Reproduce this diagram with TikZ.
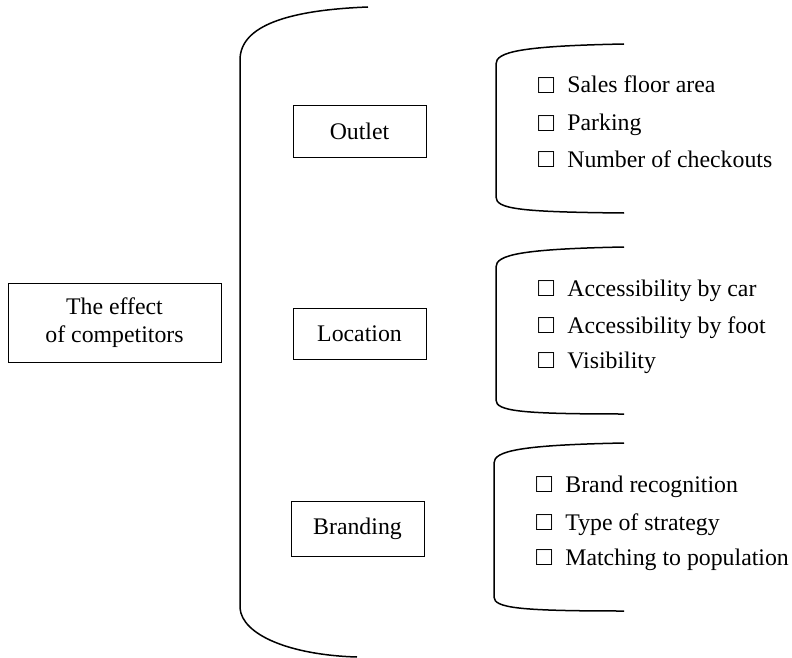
\documentclass[tikz,border=0pt]{standalone}
\usepackage{fontspec}
\setmainfont{Liberation Serif}
\newcommand{\chkbox}{\raisebox{-0.5pt}{\scalebox{1.12}{□}}\hspace{0.55em}}
\begin{document}
\begin{tikzpicture}[x=1pt,y=-1pt,
  txt/.style={font=\fontsize{23.8}{28}\selectfont},
  box/.style={txt, draw, line width=1pt, inner sep=0pt, align=center},
  item/.style={txt, anchor=base west, inner sep=0pt},
  brk/.style={line width=1.5pt}]
\useasboundingbox (0,0) rectangle (792,658);
% boxes
\node[box, minimum width=213pt, minimum height=79pt] (eff) at (114.5,322.5) {The effect\\of competitors};
\node[box, minimum width=133pt, minimum height=51pt] (outlet) at (359.5,131.5) {Outlet};
\node[box, minimum width=133pt, minimum height=51pt] (location) at (359.5,333.5) {Location};
\node[box, minimum width=133pt, minimum height=55pt] (branding) at (357.5,528.5) {Branding};
% big bracket
\draw[brk] (368,7) .. controls (290,10) and (240,25) .. (240,60) -- (240,608)
  .. controls (242,635) and (290,655) .. (357,657);
% small brackets
\draw[brk] (624,44) .. controls (520,46) and (496,52) .. (496,64) -- (496,197)
  .. controls (496,209) and (520,212) .. (624,213);
\draw[brk] (624,247) .. controls (520,249) and (496,255) .. (496,267) -- (496,400)
  .. controls (496,411) and (520,414) .. (624,414);
\draw[brk] (624,443) .. controls (520,445) and (494,451) .. (494,463) -- (494,597)
  .. controls (494,608) and (520,611) .. (624,611);
% items
\node[item] (o1) at (538,93) {\chkbox Sales floor area};
\node[item] (o2) at (538,131) {\chkbox Parking};
\node[item] (o3) at (538,167) {\chkbox Number of checkouts};
\node[item] (l1) at (538,296) {\chkbox Accessibility by car};
\node[item] (l2) at (538,333) {\chkbox Accessibility by foot};
\node[item] (l3) at (538,368) {\chkbox Visibility};
\node[item] (b1) at (536,492) {\chkbox Brand recognition};
\node[item] (b2) at (536,530) {\chkbox Type of strategy};
\node[item] (b3) at (536,565) {\chkbox Matching to population};
\end{tikzpicture}
\end{document}
